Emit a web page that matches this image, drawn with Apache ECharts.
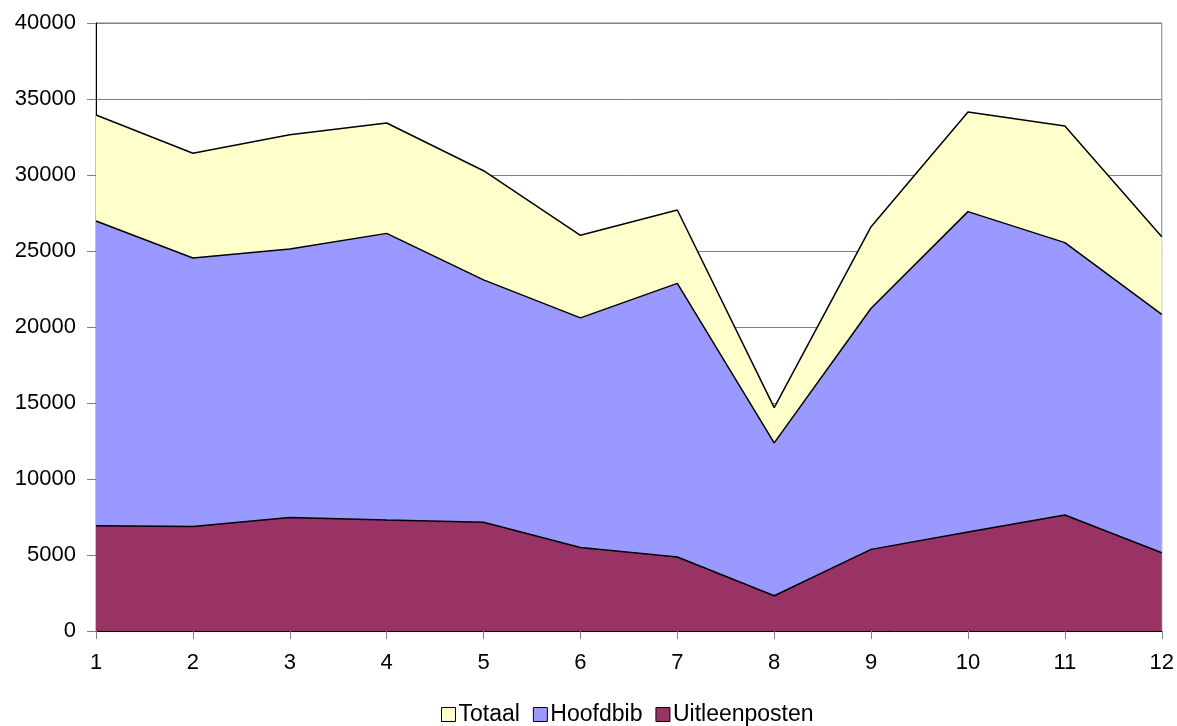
<!DOCTYPE html>
<html>
<head>
<meta charset="utf-8">
<script src="https://cdn.jsdelivr.net/npm/echarts@6/dist/echarts.min.js"></script>
<style>
html,body{margin:0;padding:0;background:#fff;}
#chart{width:1177px;height:726px;}
</style>
</head>
<body>
<div id="chart"></div>
<script>
const categories = ['1','2','3','4','5','6','7','8','9','10','11','12'];
const totaal = [33950, 31430, 32650, 33420, 30280, 26030, 27700, 14700, 26600, 34150, 33220, 25940];
const hoofdbib = [26970, 24540, 25130, 26160, 23100, 20600, 22870, 12380, 21230, 27590, 25550, 20830];
const uitleenposten = [6930, 6880, 7460, 7300, 7160, 5500, 4870, 2320, 5370, 6510, 7630, 5150];
const seriesNames = ['Totaal', 'Hoofdbib', 'Uitleenposten'];
const yTicks = { min: 0, max: 40000, interval: 5000 };

const colors = ['#FFFFCC', '#9999FF', '#993366'];
const font = 'Liberation Sans, Arial, sans-serif';

const chart = echarts.init(document.getElementById('chart'));
const dataSets = [totaal, hoofdbib, uitleenposten];

chart.setOption({
  animation: false,
  backgroundColor: '#ffffff',
  grid: { left: 96, right: 15, top: 23, bottom: 95, show: true, borderColor: '#808080', borderWidth: 1, backgroundColor: 'transparent' },
  legend: {
    top: 698,
    left: 436,
    itemWidth: 14,
    itemHeight: 14,
    itemGap: 13,
    icon: 'rect',
    textStyle: { fontFamily: font, fontSize: 23, color: '#000', padding: [0, 0, 0, -2] },
    data: seriesNames.map((n, i) => ({ name: n, itemStyle: { color: colors[i], borderColor: '#000', borderWidth: 1 } }))
  },
  xAxis: {
    type: 'category',
    data: categories,
    boundaryGap: false,
    axisLine: { lineStyle: { color: '#000', width: 1 } },
    axisTick: { show: true, length: 8, lineStyle: { color: '#808080' } },
    axisLabel: { fontFamily: font, fontSize: 22, color: '#000', margin: 21 },
    splitLine: { show: false }
  },
  yAxis: {
    type: 'value',
    min: yTicks.min,
    max: yTicks.max,
    interval: yTicks.interval,
    axisLine: { show: true, lineStyle: { color: '#000', width: 1 } },
    axisTick: { show: true, length: 9, lineStyle: { color: '#808080' } },
    axisLabel: { fontFamily: font, fontSize: 22, color: '#000', margin: 20, formatter: v => String(v) },
    splitLine: { show: true, lineStyle: { color: '#808080', width: 1 } }
  },
  series: seriesNames.map((n, i) => ({
    name: n,
    type: 'line',
    data: dataSets[i],
    showSymbol: false,
    symbol: 'none',
    z: 2 + i,
    lineStyle: { color: '#000', width: 1.5 },
    itemStyle: { color: colors[i] },
    areaStyle: { color: colors[i], opacity: 1 }
  }))
});
</script>
</body>
</html>
